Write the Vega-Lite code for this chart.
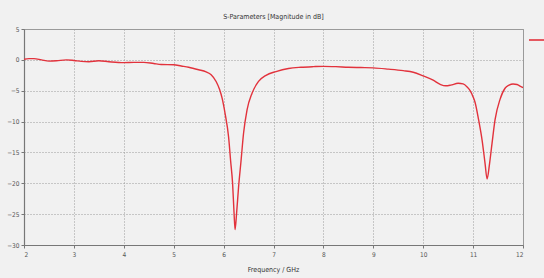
{
  "$schema": "https://vega.github.io/schema/vega-lite/v6.json",
  "autosize": "none",
  "width": 499,
  "height": 216,
  "padding": {"left": 24, "top": 29, "right": 21, "bottom": 33},
  "background": "#f1f1f1",
  "title": {
    "text": "S-Parameters [Magnitude in dB]",
    "font": "'Liberation Sans Narrow', 'DejaVu Sans Condensed', 'Liberation Sans', sans-serif",
    "fontSize": 7,
    "fontWeight": "normal",
    "color": "#333333",
    "offset": 6
  },
  "config": {
    "view": {"stroke": "#9a9a9a", "strokeWidth": 1, "fill": "#f1f1f1"},
    "axis": {
      "labelFont": "'Liberation Sans Narrow', 'DejaVu Sans Condensed', 'Liberation Sans', sans-serif",
      "labelFontSize": 6.5,
      "labelColor": "#555555",
      "titleFont": "'Liberation Sans Narrow', 'DejaVu Sans Condensed', 'Liberation Sans', sans-serif",
      "titleFontSize": 7,
      "titleFontWeight": "normal",
      "titleColor": "#333333",
      "domainColor": "#777777",
      "domainWidth": 1.2,
      "tickColor": "#777777",
      "tickSize": 3,
      "gridColor": "#9a9a9a",
      "gridDash": [1, 2],
      "gridWidth": 1
    }
  },
  "data": {
    "values": [
      {"f": 2.0, "db": 0.1, "s": "S1,1"},
      {"f": 2.1, "db": 0.2, "s": "S1,1"},
      {"f": 2.2, "db": 0.2, "s": "S1,1"},
      {"f": 2.35, "db": 0.0, "s": "S1,1"},
      {"f": 2.5, "db": -0.2, "s": "S1,1"},
      {"f": 2.65, "db": -0.15, "s": "S1,1"},
      {"f": 2.85, "db": 0.0, "s": "S1,1"},
      {"f": 3.0, "db": -0.1, "s": "S1,1"},
      {"f": 3.15, "db": -0.25, "s": "S1,1"},
      {"f": 3.3, "db": -0.3, "s": "S1,1"},
      {"f": 3.5, "db": -0.15, "s": "S1,1"},
      {"f": 3.7, "db": -0.3, "s": "S1,1"},
      {"f": 4.0, "db": -0.45, "s": "S1,1"},
      {"f": 4.2, "db": -0.4, "s": "S1,1"},
      {"f": 4.4, "db": -0.4, "s": "S1,1"},
      {"f": 4.6, "db": -0.6, "s": "S1,1"},
      {"f": 4.75, "db": -0.75, "s": "S1,1"},
      {"f": 5.0, "db": -0.8, "s": "S1,1"},
      {"f": 5.15, "db": -1.0, "s": "S1,1"},
      {"f": 5.3, "db": -1.2, "s": "S1,1"},
      {"f": 5.5, "db": -1.6, "s": "S1,1"},
      {"f": 5.65, "db": -1.95, "s": "S1,1"},
      {"f": 5.75, "db": -2.4, "s": "S1,1"},
      {"f": 5.85, "db": -3.5, "s": "S1,1"},
      {"f": 5.92, "db": -4.8, "s": "S1,1"},
      {"f": 5.97, "db": -6.2, "s": "S1,1"},
      {"f": 6.03, "db": -8.7, "s": "S1,1"},
      {"f": 6.1, "db": -12.5, "s": "S1,1"},
      {"f": 6.14, "db": -16.3, "s": "S1,1"},
      {"f": 6.18, "db": -20.0, "s": "S1,1"},
      {"f": 6.21, "db": -24.9, "s": "S1,1"},
      {"f": 6.23, "db": -27.5, "s": "S1,1"},
      {"f": 6.26, "db": -24.9, "s": "S1,1"},
      {"f": 6.3, "db": -20.6, "s": "S1,1"},
      {"f": 6.35, "db": -16.3, "s": "S1,1"},
      {"f": 6.4, "db": -11.9, "s": "S1,1"},
      {"f": 6.47, "db": -8.1, "s": "S1,1"},
      {"f": 6.57, "db": -5.4, "s": "S1,1"},
      {"f": 6.7, "db": -3.5, "s": "S1,1"},
      {"f": 6.85, "db": -2.5, "s": "S1,1"},
      {"f": 7.05, "db": -1.9, "s": "S1,1"},
      {"f": 7.3, "db": -1.4, "s": "S1,1"},
      {"f": 7.55, "db": -1.2, "s": "S1,1"},
      {"f": 7.8, "db": -1.1, "s": "S1,1"},
      {"f": 8.0, "db": -1.05, "s": "S1,1"},
      {"f": 8.25, "db": -1.1, "s": "S1,1"},
      {"f": 8.5, "db": -1.2, "s": "S1,1"},
      {"f": 8.75, "db": -1.25, "s": "S1,1"},
      {"f": 9.0, "db": -1.3, "s": "S1,1"},
      {"f": 9.3, "db": -1.5, "s": "S1,1"},
      {"f": 9.6, "db": -1.75, "s": "S1,1"},
      {"f": 9.8, "db": -2.0, "s": "S1,1"},
      {"f": 10.0, "db": -2.6, "s": "S1,1"},
      {"f": 10.2, "db": -3.3, "s": "S1,1"},
      {"f": 10.35, "db": -4.0, "s": "S1,1"},
      {"f": 10.45, "db": -4.2, "s": "S1,1"},
      {"f": 10.55, "db": -4.1, "s": "S1,1"},
      {"f": 10.7, "db": -3.8, "s": "S1,1"},
      {"f": 10.8, "db": -3.9, "s": "S1,1"},
      {"f": 10.88, "db": -4.4, "s": "S1,1"},
      {"f": 10.94, "db": -5.0, "s": "S1,1"},
      {"f": 11.0, "db": -6.0, "s": "S1,1"},
      {"f": 11.04, "db": -6.9, "s": "S1,1"},
      {"f": 11.11, "db": -9.7, "s": "S1,1"},
      {"f": 11.18, "db": -13.0, "s": "S1,1"},
      {"f": 11.24, "db": -16.8, "s": "S1,1"},
      {"f": 11.28, "db": -19.3, "s": "S1,1"},
      {"f": 11.33, "db": -16.8, "s": "S1,1"},
      {"f": 11.38, "db": -13.5, "s": "S1,1"},
      {"f": 11.44, "db": -9.7, "s": "S1,1"},
      {"f": 11.54, "db": -6.4, "s": "S1,1"},
      {"f": 11.64, "db": -4.6, "s": "S1,1"},
      {"f": 11.72, "db": -4.1, "s": "S1,1"},
      {"f": 11.8, "db": -3.9, "s": "S1,1"},
      {"f": 11.88, "db": -4.0, "s": "S1,1"},
      {"f": 11.95, "db": -4.3, "s": "S1,1"},
      {"f": 12.0, "db": -4.5, "s": "S1,1"}
    ]
  },
  "mark": {"type": "line", "interpolate": "monotone", "strokeWidth": 1.4, "clip": true},
  "encoding": {
    "x": {
      "field": "f",
      "type": "quantitative",
      "scale": {"domain": [2, 12], "nice": false, "zero": false},
      "axis": {"values": [2, 3, 4, 5, 6, 7, 8, 9, 10, 11, 12], "title": "Frequency / GHz", "titleX": 249, "titleY": 20, "labelPadding": 3}
    },
    "y": {
      "field": "db",
      "type": "quantitative",
      "scale": {"domain": [-30, 5], "nice": false, "zero": false},
      "axis": {"values": [5, 0, -5, -10, -15, -20, -25, -30], "title": null, "labelPadding": 2}
    },
    "color": {
      "field": "s",
      "type": "nominal",
      "scale": {"range": ["#e2323c"]},
      "legend": {
        "orient": "none",
        "legendX": 504,
        "legendY": 2,
        "padding": 0,
        "title": null,
        "symbolType": "stroke",
        "symbolSize": 256,
        "symbolStrokeWidth": 1.6,
        "labelOffset": 24,
        "labelFontSize": 7,
        "labelColor": "#333333"
      }
    }
  }
}
